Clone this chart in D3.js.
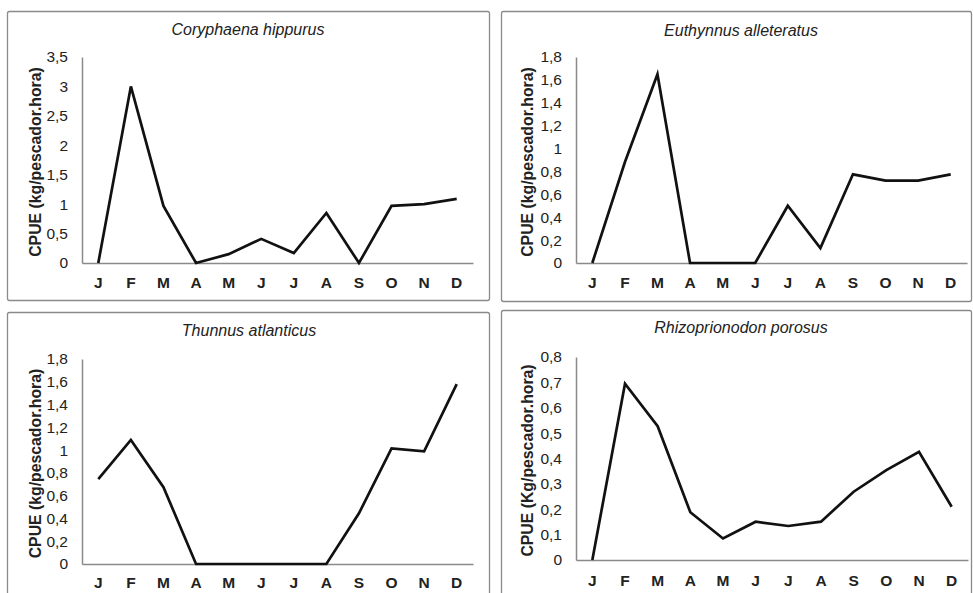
<!DOCTYPE html>
<html><head><meta charset="utf-8">
<script src="https://cdn.jsdelivr.net/npm/d3@7"></script>
<style>body{margin:0;background:#fff}svg{display:block}
svg text{font-family:"Liberation Sans",Arial,sans-serif;fill:#222}
.tick text{font-size:15.5px}
.xax .tick text{font-weight:bold}
</style>
</head><body>
<svg id="c" width="973" height="593"></svg>
<script>
const months = ["J","F","M","A","M","J","J","A","S","O","N","D"];
const titles = ["Coryphaena hippurus","Euthynnus alleteratus","Thunnus atlanticus","Rhizoprionodon porosus"];
const yTitles = ["CPUE (kg/pescador.hora)","CPUE (kg/pescador.hora)","CPUE (kg/pescador.hora)","CPUE (Kg/pescador.hora)"];
const coryphaena = [0,3.0,0.97,0,0.15,0.41,0.17,0.85,0,0.97,1.0,1.09];
const euthynnus = [0,0.88,1.65,0,0,0,0.50,0.13,0.775,0.72,0.72,0.775];
const thunnus = [0.745,1.09,0.675,0,0,0,0,0,0.445,1.015,0.99,1.58];
const rhizoprionodon = [0,0.695,0.527,0.188,0.085,0.151,0.134,0.151,0.269,0.354,0.426,0.21];
const yMax = [3.5,1.8,1.8,0.8];
const yStep = [0.5,0.2,0.2,0.1];
const seriesList = [coryphaena,euthynnus,thunnus,rhizoprionodon];

const layout = [
  {bx:7,by:11,bw:482,bh:289,l:82,r:473,t:57,b:263,tx:248,ty:35,ytx:35,mo:25},
  {bx:501,by:11,bw:470,bh:290,l:576,r:967,t:57,b:263,tx:741,ty:36,ytx:527,mo:25},
  {bx:7,by:312,bw:482,bh:300,l:82,r:473,t:359,b:564,tx:249,ty:336,ytx:35,mo:24},
  {bx:501,by:310,bw:470,bh:300,l:576,r:968,t:357,b:560,tx:741,ty:333,ytx:527,mo:26}
];
const svg = d3.select("#c");
const fmt = v => String(+v.toFixed(2)).replace(".", ",");

layout.forEach((L,i)=>{
  const g = svg.append("g");
  g.append("rect").attr("x",L.bx+0.5).attr("y",L.by+0.5).attr("width",L.bw).attr("height",L.bh)
   .attr("rx",2).style("fill","#fff").attr("stroke","#8a8a8a").attr("stroke-width",1.3);
  const x = d3.scaleBand().domain(d3.range(12)).range([L.l,L.r]);
  const y = d3.scaleLinear().domain([0,yMax[i]]).range([L.b,L.t]);
  const ticks = d3.range(0, yMax[i]+yStep[i]/2, yStep[i]);
  const ya = g.append("g").attr("class","yax").attr("transform",`translate(${L.l},0)`)
    .call(d3.axisLeft(y).tickValues(ticks).tickSize(0).tickPadding(14).tickFormat(fmt));
  ya.attr("font-size",null).attr("font-family",null);
  ya.select(".domain").attr("stroke","#8a8a8a").attr("stroke-width",1.5);
  const xa = g.append("g").attr("class","xax").attr("transform",`translate(0,${L.b})`)
    .call(d3.axisBottom(x).tickSize(0).tickPadding(0).tickFormat(j=>months[j]));
  xa.attr("font-size",null).attr("font-family",null);
  xa.select(".domain").attr("stroke","#8a8a8a").attr("stroke-width",1.5);
  xa.selectAll(".tick text").attr("dy",null).attr("y",L.mo);
  const line = d3.line().x((d,j)=>x(j)+x.bandwidth()/2).y(d=>y(d));
  g.append("path").datum(seriesList[i]).attr("d",line).attr("fill","none")
   .attr("stroke","#111").attr("stroke-width",2.7);
  g.append("text").attr("x",L.tx).attr("y",L.ty).attr("text-anchor","middle")
   .style("font-style","italic").style("font-size","16px").text(titles[i]);
  g.append("text").attr("transform",`translate(${L.ytx},${(L.t+L.b)/2+2}) rotate(-90)`).attr("text-anchor","middle")
   .attr("dy","0.35em").style("font-weight","bold").style("font-size","15.8px").text(yTitles[i]);
});
</script>
</body></html>
